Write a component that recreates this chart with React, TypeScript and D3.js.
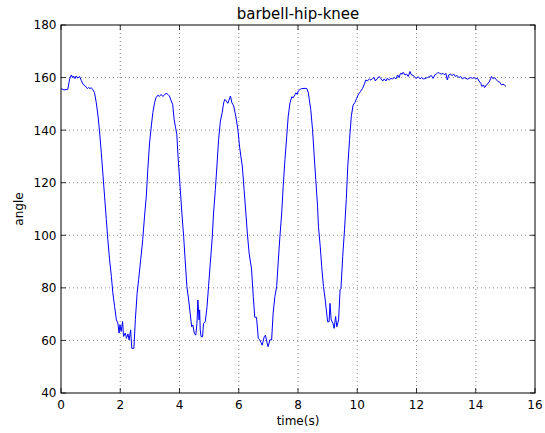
import React from "react";
import * as d3 from "d3";

const titleText = "barbell-hip-knee";
const xLabel = "time(s)";
const yLabel = "angle";
const xTicks = [0, 2, 4, 6, 8, 10, 12, 14, 16];
const yTicks = [40, 60, 80, 100, 120, 140, 160, 180];

const timeS = [
  0.0, 0.1, 0.23, 0.29, 0.35, 0.39, 0.42, 0.47, 0.51, 0.56, 0.63, 0.68, 0.74, 0.82, 0.89, 0.93, 0.98, 1.02,
  1.08, 1.13, 1.19, 1.25, 1.3, 1.36, 1.42, 1.47, 1.53, 1.58, 1.64, 1.7, 1.75, 1.81, 1.87, 1.92, 1.96, 1.99,
  2.03, 2.08, 2.11, 2.17, 2.21, 2.26, 2.3, 2.35, 2.39, 2.46, 2.51, 2.57, 2.62, 2.69, 2.76, 2.82, 2.88, 2.93,
  2.99, 3.05, 3.1, 3.16, 3.21, 3.27, 3.32, 3.38, 3.44, 3.5, 3.55, 3.61, 3.66, 3.72,
  3.77, 3.82, 3.86, 3.91, 3.95, 4.02, 4.08, 4.14, 4.19, 4.25, 4.31, 4.36, 4.41, 4.45, 4.5, 4.55, 4.59, 4.62,
  4.66, 4.68, 4.7, 4.73, 4.78, 4.81, 4.87, 4.93, 4.98, 5.04, 5.1, 5.15, 5.21, 5.27, 5.32, 5.38, 5.44, 5.49,
  5.53, 5.58, 5.63, 5.67, 5.72, 5.77, 5.83,
  5.9, 5.97, 6.03, 6.08, 6.12, 6.18, 6.24, 6.29, 6.35, 6.4, 6.43, 6.49, 6.54, 6.6, 6.66, 6.71, 6.75, 6.79,
  6.82, 6.86, 6.9, 6.96, 6.99, 7.05, 7.11, 7.16, 7.22, 7.28, 7.33, 7.39, 7.45, 7.5, 7.56, 7.62, 7.67, 7.73,
  7.79, 7.84, 7.9, 7.93, 7.97, 8.01, 8.07, 8.12, 8.24, 8.3, 8.35, 8.38, 8.43, 8.49, 8.54, 8.6, 8.66, 8.69,
  8.75, 8.8, 8.86, 8.92, 8.95, 9.0, 9.05, 9.08, 9.12, 9.18, 9.22, 9.27, 9.31, 9.37, 9.42, 9.45, 9.51, 9.57,
  9.63, 9.68, 9.74, 9.8, 9.86, 9.92, 9.98, 10.03,
  10.11, 10.18, 10.23, 10.29, 10.34, 10.41, 10.46, 10.52, 10.57, 10.61, 10.67, 10.74, 10.79, 10.86, 10.91,
  10.97, 11.01, 11.08, 11.14, 11.19, 11.25, 11.31, 11.36, 11.41, 11.46, 11.52, 11.55, 11.61, 11.67, 11.72,
  11.78, 11.83, 11.89, 11.95, 12.0, 12.06, 12.12, 12.17, 12.23, 12.28,
  12.37, 12.45, 12.5, 12.56, 12.62, 12.67, 12.73, 12.78, 12.84, 12.9, 12.95, 12.99, 13.04, 13.09, 13.14,
  13.2, 13.26, 13.31, 13.37, 13.43, 13.49, 13.55, 13.61, 13.66, 13.72, 13.78, 13.83, 13.89, 13.94, 14.0,
  14.06, 14.11, 14.17, 14.21, 14.26, 14.3, 14.36, 14.42, 14.47, 14.53, 14.59, 14.64, 14.7, 14.75, 14.81,
  14.87, 14.92, 14.98, 15.02,
];

const angleDeg = [
  155.8, 155.3, 155.5, 159.4, 161.0, 160.0, 160.6, 159.6, 160.6, 159.8, 160.4, 159.0, 157.5, 156.8, 155.8, 156.2, 155.8, 156.2,
  155.3, 154.3, 150.5, 145.4, 139.7, 131.4, 122.5, 114.9, 106.0, 98.4, 90.7, 84.4, 78.0, 72.9, 67.8, 66.6, 62.8, 66.0,
  63.4, 67.2, 61.5, 62.8, 60.8, 62.5, 60.2, 64.0, 57.0, 57.0, 67.9, 78.0, 83.1, 90.7, 98.4, 107.3, 114.9, 125.1,
  135.2, 141.6, 146.7, 150.5, 152.4, 153.3, 152.8, 153.6, 152.8, 153.6, 154.0, 153.6, 153.0, 151.1,
  149.8, 144.0, 141.5, 138.3, 130.1, 118.6, 108.5, 99.6, 90.7, 80.5, 75.4, 70.3, 65.2, 65.9, 62.7, 62.0, 66.5, 75.4,
  67.8, 71.6, 64.0, 61.4, 61.4, 66.5, 67.1, 72.9, 80.5, 89.4, 98.3, 108.5, 117.4, 127.5, 136.4, 143.4, 146.6, 150.4,
  151.7, 151.1, 150.2, 151.4, 153.0, 150.4, 149.2,
  145.3, 140.3, 133.5, 129.4, 126.3, 117.4, 108.5, 100.8, 93.2, 89.4, 87.5, 76.7, 68.8, 68.8, 60.8, 60.2, 59.2, 58.2,
  59.5, 61.4, 62.0, 58.9, 57.6, 60.2, 60.2, 70.3, 76.7, 80.5, 89.4, 99.6, 108.5, 118.6, 128.8, 137.7, 145.3, 150.4,
  152.7, 152.3, 153.6, 154.2, 153.6, 154.9, 155.5, 155.8, 155.9, 155.8, 154.2, 151.7, 147.9, 140.3, 131.4, 121.2, 111.0, 103.4,
  95.8, 88.1, 80.5, 75.4, 72.2, 67.1, 67.1, 74.1, 67.8, 66.5, 64.6, 69.1, 65.2, 67.8, 79.2, 79.8, 92.0, 102.1,
  113.6, 126.3, 136.4, 145.3, 149.5, 150.5, 152.1, 153.4,
  154.7, 155.9, 157.2, 159.1, 158.7, 159.5, 159.0, 159.7, 160.0, 158.7, 159.5, 160.4, 159.7, 158.7, 159.5,
  158.7, 159.7, 159.1, 159.7, 159.5, 160.0, 159.5, 161.0, 160.0, 161.6, 161.3, 162.0, 161.0, 161.3, 160.4,
  162.3, 161.0, 160.8, 160.0, 159.7, 160.3, 159.5, 160.0, 159.5, 159.6,
  160.0, 160.4, 160.8, 159.7, 161.0, 161.3, 162.0, 161.6, 161.3, 161.6, 161.0, 161.6, 159.1, 161.0, 161.3,
  160.8, 161.3, 160.4, 160.8, 160.0, 160.4, 159.5, 160.0, 159.7, 159.4, 159.7, 160.0, 159.7, 160.0, 159.5,
  159.7, 158.7, 157.8, 156.6, 157.2, 156.2, 157.2, 157.8, 158.7, 160.4, 159.5, 160.0, 159.1, 158.5, 158.2,
  157.2, 157.5, 157.0, 156.6,
];

const W = 545;
const H = 433;
const M = { left: 61, right: 535, top: 25, bottom: 393 };
const FONT = "'DejaVu Sans', sans-serif";
const TICK = 5;

export default function App() {
  const x = d3.scaleLinear().domain([0, 16]).range([M.left, M.right]);
  const y = d3.scaleLinear().domain([40, 180]).range([M.bottom, M.top]);
  const pts: [number, number][] = timeS.map((t, i) => [t, angleDeg[i]]);
  const line = d3
    .line<[number, number]>()
    .x((d) => x(d[0]))
    .y((d) => y(d[1]));

  return (
    <svg
      width={W}
      height={H}
      style={{ position: "absolute", left: 0, top: 0, background: "#fff" }}
      fontFamily={FONT}
    >
      <rect x={0} y={0} width={W} height={H} fill="#fff" />
      {/* grid */}
      <g stroke="#000" strokeWidth={0.6} strokeDasharray="1,3" opacity={0.75}>
        {xTicks.slice(1, -1).map((t) => (
          <line key={"gx" + t} x1={x(t)} x2={x(t)} y1={M.top} y2={M.bottom} />
        ))}
        {yTicks.slice(1, -1).map((t) => (
          <line key={"gy" + t} x1={M.left} x2={M.right} y1={y(t)} y2={y(t)} />
        ))}
      </g>
      {/* data */}
      <clipPath id="clip">
        <rect x={M.left} y={M.top} width={M.right - M.left} height={M.bottom - M.top} />
      </clipPath>
      <path d={line(pts) || ""} fill="none" stroke="#0000ff" strokeWidth={1} clipPath="url(#clip)" />
      {/* ticks */}
      <g stroke="#000" strokeWidth={0.8}>
        {xTicks.map((t) => (
          <g key={"tx" + t}>
            <line x1={x(t)} x2={x(t)} y1={M.bottom} y2={M.bottom - TICK} />
            <line x1={x(t)} x2={x(t)} y1={M.top} y2={M.top + TICK} />
          </g>
        ))}
        {yTicks.map((t) => (
          <g key={"ty" + t}>
            <line x1={M.left} x2={M.left + TICK} y1={y(t)} y2={y(t)} />
            <line x1={M.right} x2={M.right - TICK} y1={y(t)} y2={y(t)} />
          </g>
        ))}
      </g>
      {/* frame */}
      <rect
        x={M.left}
        y={M.top}
        width={M.right - M.left}
        height={M.bottom - M.top}
        fill="none"
        stroke="#000"
        strokeWidth={1}
      />
      {/* tick labels */}
      <g fontSize={12} fill="#000">
        {xTicks.map((t) => (
          <text key={"lx" + t} x={x(t)} y={M.bottom + 15.5} textAnchor="middle">
            {t}
          </text>
        ))}
        {yTicks.map((t) => (
          <text key={"ly" + t} x={M.left - 4.5} y={y(t) + 4.4} textAnchor="end">
            {t}
          </text>
        ))}
      </g>
      <text x={(M.left + M.right) / 2} y={19} textAnchor="middle" fontSize={15}>
        {titleText}
      </text>
      <text x={(M.left + M.right) / 2} y={425} textAnchor="middle" fontSize={12}>
        {xLabel}
      </text>
      <text
        transform={`translate(23,${(M.top + M.bottom) / 2}) rotate(-90)`}
        textAnchor="middle"
        fontSize={12}
      >
        {yLabel}
      </text>
    </svg>
  );
}
